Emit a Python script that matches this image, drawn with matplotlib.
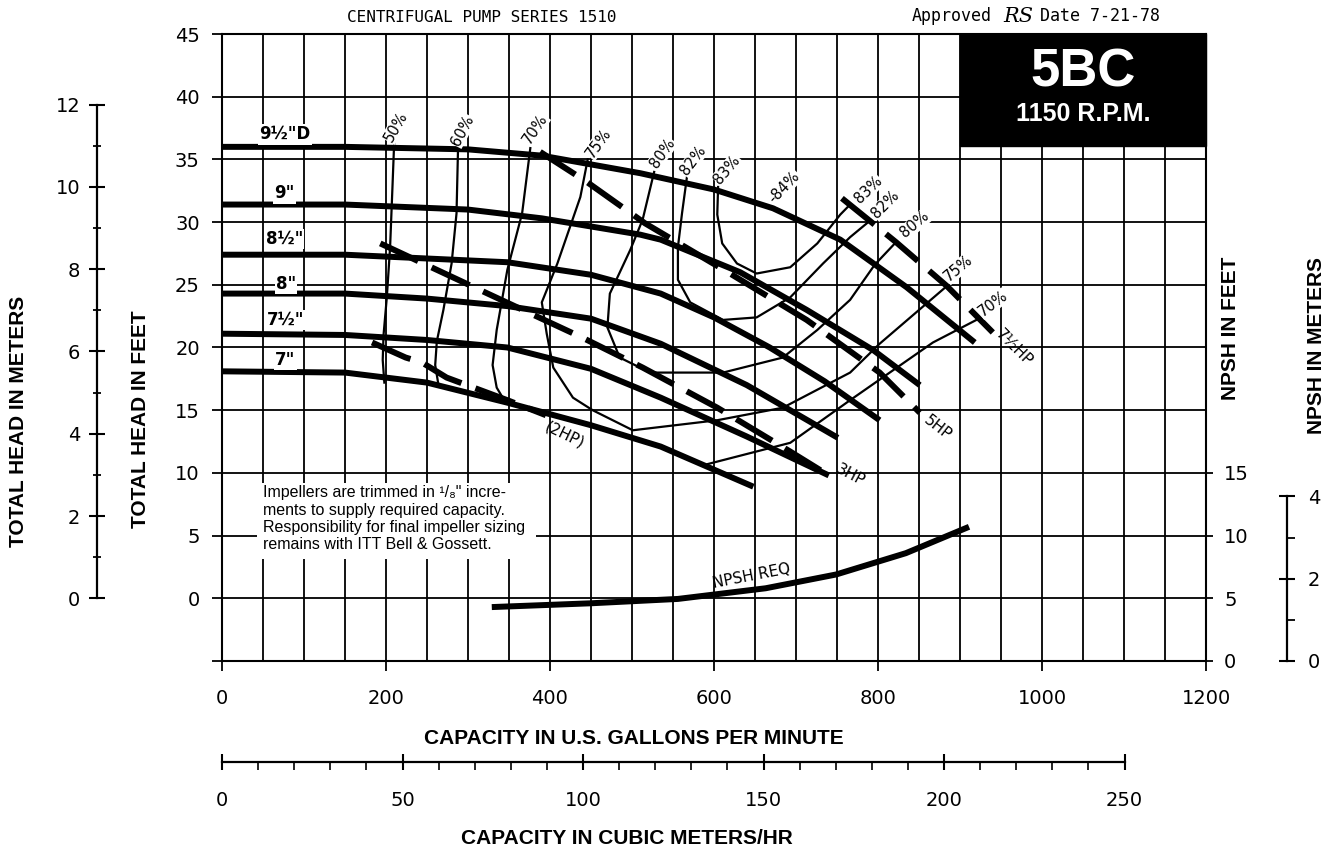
import matplotlib
matplotlib.use("Agg")
import matplotlib.pyplot as plt
from matplotlib.patches import Rectangle
from matplotlib.ticker import FixedLocator, MultipleLocator, FuncFormatter

# ------------------------------------------------------------------
# Pump performance data (capacity in U.S. gpm, head in feet)
# ------------------------------------------------------------------
diameters = ['9½"D', '9"', '8½"', '8"', '7½"', '7"']

q_950 = [0, 150, 300, 390, 510, 600, 672, 754, 835, 918]
h_950 = [36.0, 36.0, 35.8, 35.3, 33.9, 32.6, 31.1, 28.6, 24.8, 20.4]
q_900 = [0, 150, 300, 390, 510, 535, 632, 713, 794, 851]
h_900 = [31.4, 31.4, 31.0, 30.3, 29.0, 28.6, 26.0, 23.0, 19.8, 17.0]
q_850 = [0, 150, 348, 450, 535, 600, 668, 735, 802]
h_850 = [27.4, 27.4, 26.8, 25.8, 24.3, 22.4, 20.0, 17.3, 14.2]
q_800 = [0, 150, 250, 348, 450, 535, 640, 751]
h_800 = [24.3, 24.3, 23.9, 23.3, 22.3, 20.3, 17.0, 12.8]
q_750 = [0, 150, 250, 348, 450, 535, 640, 740]
h_750 = [21.1, 21.0, 20.6, 20.0, 18.3, 16.0, 12.9, 9.8]
q_700 = [0, 150, 250, 348, 450, 535, 648]
h_700 = [18.1, 18.0, 17.2, 15.6, 13.8, 12.1, 8.9]

# iso-efficiency lines
q_e50 = [210, 208, 205, 201, 197, 196, 198]
h_e50 = [36.4, 33.0, 28.0, 24.0, 21.0, 19.0, 17.2]
q_e60 = [288, 286, 280, 270, 262, 260, 264]
h_e60 = [36.3, 30.7, 26.7, 23.0, 20.5, 18.6, 17.0]
q_e70_left = [376, 366, 348, 335, 330, 335, 346]
h_e70_left = [35.9, 30.7, 26.2, 21.4, 18.6, 16.8, 15.6]
q_e70_right = [592, 693, 766, 867, 923]
h_e70_right = [10.7, 12.4, 15.8, 20.4, 22.3]
q_e75 = [446, 437, 409, 390, 396, 404, 428, 452, 501, 604, 684, 766, 802, 884]
h_e75 = [35.0, 32.0, 26.7, 23.6, 21.1, 18.4, 16.0, 15.0, 13.4, 14.2, 15.2, 18.0, 20.3, 24.9]
q_e80 = [527, 513, 498, 473, 470, 485, 522, 611, 684, 726, 766, 796, 822]
h_e80 = [34.0, 30.2, 27.8, 24.3, 21.6, 19.2, 18.0, 18.0, 19.2, 21.4, 23.8, 26.6, 28.4]
q_e82 = [567, 561, 556, 556, 571, 611, 652, 693, 733, 766, 790]
h_e82 = [33.6, 30.7, 28.0, 25.4, 23.6, 22.2, 22.4, 24.0, 26.7, 28.8, 30.1]
q_e83 = [605, 604, 610, 628, 652, 693, 726, 754, 766]
h_e83 = [32.8, 30.6, 28.3, 26.7, 25.9, 26.4, 28.3, 30.6, 31.4]

# brake horsepower lines
q_2hp = [183, 224, 244, 274, 348, 395]
h_2hp = [20.4, 19.2, 18.8, 17.6, 15.8, 14.6]
q_3hp = [193, 324, 439, 513, 604, 693, 745]
h_3hp = [28.3, 24.3, 20.8, 18.4, 15.2, 11.7, 9.6]
q_5hp = [388, 445, 516, 617, 713, 802, 851]
h_5hp = [35.6, 33.2, 29.9, 26.0, 22.2, 18.0, 14.8]
q_75hp = [756, 790, 822, 884, 940]
h_75hp = [31.9, 30.1, 28.4, 24.9, 21.2]

# net positive suction head required (ft, read on the NPSH scale)
q_npsh = [329, 449, 556, 663, 749, 834, 911]
npsh_req = [4.3, 4.6, 4.95, 5.8, 6.9, 8.6, 10.7]

# axis tick values
gpm_ticks = [0, 200, 400, 600, 800, 1000, 1200]
head_ft_ticks = [-5, 0, 5, 10, 15, 20, 25, 30, 35, 40, 45]
head_m_ticks = [0, 2, 4, 6, 8, 10, 12]
head_m_minor = [1, 3, 5, 7, 9, 11]
npsh_ft_ticks = [0, 5, 10, 15]
npsh_m_ticks = [0, 2, 4]
npsh_m_minor = [1, 3]
m3h_ticks = [0, 50, 100, 150, 200, 250]
m3h_minor = [v for v in range(0, 251, 10) if v % 50]

NOTE_LINES = [
    'Impellers are trimmed in \u00b9/\u2088" incre-',
    'ments to supply required capacity.',
    'Responsibility for final impeller sizing',
    'remains with ITT Bell & Gossett.',
]

# unit relations
FT_TO_M = 0.3048
GPM_TO_M3H = 0.227125
NPSH_ZERO = -5.0          # head value (ft) where the NPSH scale starts

# ------------------------------------------------------------------
W, H, DPI = 1333, 851, 100
plt.rcParams['font.family'] = ['DejaVu Sans']
fig = plt.figure(figsize=(W / DPI, H / DPI), dpi=DPI)
ax = fig.add_axes([222 / W, 1 - 661 / H, 984 / W, 627 / H])
ax.set_xlim(0, 1200)
ax.set_ylim(-5, 45)

# grid every 50 gpm / 5 ft
ax.set_xticks(gpm_ticks)
ax.xaxis.set_minor_locator(MultipleLocator(50))
ax.set_yticks(head_ft_ticks)
ax.set_axisbelow(True)
ax.grid(which='both', color='black', lw=1.3)
for sp in ax.spines.values():
    sp.set_linewidth(1.5)
ax.tick_params(axis='both', which='major', direction='out', length=7, width=1.3,
               labelsize=14)
ax.tick_params(axis='x', which='major', pad=13)
ax.tick_params(axis='y', which='major', pad=9)
ax.tick_params(axis='x', which='minor', length=0)
ax.yaxis.set_major_formatter(FuncFormatter(lambda v, _: '' if v < 0 else f'{v:g}'))

# head in meters (left scale)
sec_m = ax.secondary_yaxis(-0.127, functions=(lambda f: f * FT_TO_M,
                                              lambda m: m / FT_TO_M))
sec_m.set_yticks(head_m_ticks)
sec_m.yaxis.set_minor_locator(FixedLocator(head_m_minor))
sec_m.spines['left'].set_bounds(0, 12)
sec_m.spines['left'].set_linewidth(1.6)
sec_m.tick_params(which='major', direction='inout', length=12, width=1.5,
                  labelsize=14, pad=6)
sec_m.tick_params(which='minor', direction='inout', length=6, width=1.3)

# NPSH in feet (right scale)
sec_nf = ax.secondary_yaxis('right', functions=(lambda f: f - NPSH_ZERO,
                                                lambda n: n + NPSH_ZERO))
sec_nf.set_yticks(npsh_ft_ticks)
sec_nf.spines['right'].set_visible(False)
sec_nf.tick_params(which='major', direction='out', length=5, width=1.3,
                   labelsize=14, pad=8)

# NPSH in meters (far right scale)
sec_nm = ax.secondary_yaxis(1.0823, functions=(
    lambda f: (f - NPSH_ZERO) * FT_TO_M, lambda m: m / FT_TO_M + NPSH_ZERO))
sec_nm.set_yticks(npsh_m_ticks)
sec_nm.yaxis.set_minor_locator(FixedLocator(npsh_m_minor))
sec_nm.spines['right'].set_bounds(0, 4)
sec_nm.spines['right'].set_linewidth(1.6)
sec_nm.tick_params(which='major', direction='inout', length=12, width=1.5,
                   labelsize=14, pad=9)
sec_nm.tick_params(which='minor', direction='out', length=6, width=1.3)

# capacity in cubic meters per hour (second bottom scale)
sec_x = ax.secondary_xaxis(-0.161, functions=(lambda q: q * GPM_TO_M3H,
                                              lambda c: c / GPM_TO_M3H))
sec_x.set_xticks(m3h_ticks)
sec_x.xaxis.set_minor_locator(FixedLocator(m3h_minor))
sec_x.spines['bottom'].set_bounds(0, 250)
sec_x.spines['bottom'].set_linewidth(1.6)
sec_x.tick_params(which='major', direction='inout', length=12, width=1.5,
                  labelsize=14, pad=15)
sec_x.tick_params(which='minor', direction='out', length=6, width=1.2)

# ------------------------------------------------------------------
# curves
# ------------------------------------------------------------------
HEAVY = 4.3
LIGHT = 1.6
head_curves = [(q_950, h_950), (q_900, h_900), (q_850, h_850),
               (q_800, h_800), (q_750, h_750), (q_700, h_700)]
for q, h in head_curves:
    ax.plot(q, h, color='black', lw=HEAVY, solid_capstyle='butt',
            solid_joinstyle='round', zorder=4)

eff_curves = [(q_e50, h_e50), (q_e60, h_e60), (q_e70_left, h_e70_left),
              (q_e70_right, h_e70_right), (q_e75, h_e75), (q_e80, h_e80),
              (q_e82, h_e82), (q_e83, h_e83)]
for q, h in eff_curves:
    ax.plot(q, h, color='black', lw=LIGHT, solid_joinstyle='round', zorder=3)

hp_curves = [(q_2hp, h_2hp), (q_3hp, h_3hp), (q_5hp, h_5hp), (q_75hp, h_75hp)]
for q, h in hp_curves:
    ax.plot(q, h, color='black', lw=HEAVY, dashes=(7, 2.5),
            dash_capstyle='butt', zorder=4)

ax.plot(q_npsh, [n + NPSH_ZERO for n in npsh_req], color='black', lw=HEAVY,
        solid_capstyle='butt', zorder=4)

# ------------------------------------------------------------------
# labels on the chart
# ------------------------------------------------------------------
white = dict(fc='white', ec='none', pad=1.0)
label_font = dict(fontsize=12, fontweight='bold', ha='center', va='center',
                  zorder=6, bbox=white)
head_label_pos = [(77, 37.0), (76, 32.3), (76, 28.65), (78, 25.1), (77, 22.2), (77, 19.0)]
for name, (x, y) in zip(diameters, head_label_pos):
    ax.text(x, y, name, **label_font)

pct_font = dict(fontsize=10.5, ha='center', va='center', zorder=6,
                bbox=dict(fc='white', ec='none', pad=0.3))
top_pct = [('50%', 212, 37.6, 60), ('60%', 293, 37.3, 62), ('70%', 382, 37.4, 56),
           ('75%', 459, 36.3, 54), ('80%', 537, 35.5, 55), ('82%', 574, 34.9, 53),
           ('83%', 616, 34.2, 50), ('-84%', 686, 32.8, 46)]
right_pct = [('83%', 788, 32.6, 44), ('82%', 809, 31.4, 45), ('80%', 845, 29.8, 40),
             ('75%', 898, 26.3, 40), ('70%', 940, 23.5, 37)]
for txt, x, y, rot in top_pct + right_pct:
    ax.text(x, y, txt, rotation=rot, rotation_mode='anchor', **pct_font)

hp_font = dict(fontsize=11, ha='center', va='center', zorder=6,
               rotation_mode='anchor')
ax.text(418, 13.0, '(2HP)', rotation=-26, **hp_font)
ax.text(766, 9.8, '3HP', rotation=-28, **hp_font)
ax.text(873, 13.6, '5HP', rotation=-38, **hp_font)
ax.text(966, 20.0, '7½HP', rotation=-45, **hp_font)
ax.text(646, 1.75, 'NPSH REQ', rotation=11, fontsize=11, ha='center',
        va='center', rotation_mode='anchor', zorder=6)

# trim note
ax.add_patch(Rectangle((43, 3.1), 340, 6.1, fc='white', ec='none', zorder=2))
for i, line in enumerate(NOTE_LINES):
    ax.text(50, 8.4 - i * 1.37, line, fontsize=11.5, family='Liberation Sans',
            ha='left', va='center', zorder=6)

# model plate
ax.add_patch(Rectangle((900, 36.1), 300, 8.9, fc='black', ec='black', zorder=7,
                       clip_on=False))
ax.text(1050, 41.9, '5BC', color='white', fontsize=38, fontweight='bold',
        family='Liberation Sans', ha='center', va='center', zorder=8)
ax.text(1050, 38.6, '1150 R.P.M.', color='white', fontsize=18, fontweight='bold',
        family='Liberation Sans', ha='center', va='center', zorder=8)

# ------------------------------------------------------------------
# titles and axis names
# ------------------------------------------------------------------
fig.text(482 / W, 1 - 18 / H, 'CENTRIFUGAL PUMP SERIES 1510', fontsize=11.5,
         family='DejaVu Sans Mono', ha='center', va='center')
fig.text(912 / W, 1 - 16 / H, 'Approved', fontsize=12, family='DejaVu Sans Mono',
         ha='left', va='center')
fig.text(1003 / W, 1 - 17 / H, 'RS', fontsize=15, family='DejaVu Serif',
         style='italic', ha='left', va='center')
fig.text(1040 / W, 1 - 16 / H, 'Date 7-21-78', fontsize=12,
         family='DejaVu Sans Mono', ha='left', va='center')

bold = dict(fontsize=15, fontweight='bold', family='Liberation Sans',
            ha='center', va='center')
fig.text(19 / W, 1 - 421 / H, 'TOTAL HEAD IN METERS', rotation=90, **bold)
fig.text(141 / W, 1 - 419 / H, 'TOTAL HEAD IN FEET', rotation=90, **bold)
fig.text(1231 / W, 1 - 328 / H, 'NPSH IN FEET', rotation=90, **bold)
fig.text(1317 / W, 1 - 345 / H, 'NPSH IN METERS', rotation=90, **bold)
fig.text(634 / W, 1 - 738 / H, 'CAPACITY IN U.S. GALLONS PER MINUTE', **bold)
fig.text(627 / W, 1 - 838 / H, 'CAPACITY IN CUBIC METERS/HR', **bold)

fig.savefig('out.png', dpi=DPI, facecolor='white')
